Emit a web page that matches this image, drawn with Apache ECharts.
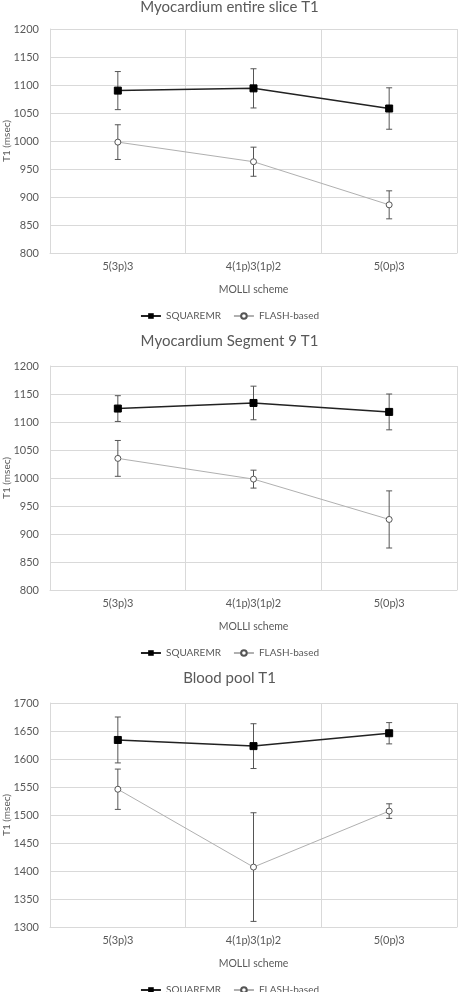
<!DOCTYPE html>
<html><head><meta charset="utf-8">
<script src="https://cdn.jsdelivr.net/npm/echarts@6/dist/echarts.min.js"></script>
<style>html,body{margin:0;padding:0;background:#fff}#c{width:459px;height:992px}</style>
</head><body><div id="c"></div>
<script>
const categories = ['5(3p)3', '4(1p)3(1p)2', '5(0p)3'];
const titles = ['Myocardium entire slice T1', 'Myocardium Segment 9 T1', 'Blood pool T1'];
const yMins = [800, 800, 1300];
const yMaxs = [1200, 1200, 1700];
// panel 1
const squareMR1 = [1090, 1094, 1058];
const squareMR1Err = [34, 35, 37];
const flash1 = [998, 963, 886];
const flash1Err = [31, 26, 25];
// panel 2
const squareMR2 = [1124, 1134, 1118];
const squareMR2Err = [23, 30, 32];
const flash2 = [1035, 998, 926];
const flash2Err = [32, 16, 51];
// panel 3
const squareMR3 = [1634, 1623, 1646];
const squareMR3Err = [41, 40, 19];
const flash3 = [1546, 1407, 1507];
const flash3Err = [36, 97, 13];

const panels = [
  {sq: squareMR1, sqE: squareMR1Err, fl: flash1, flE: flash1Err},
  {sq: squareMR2, sqE: squareMR2Err, fl: flash2, flE: flash2Err},
  {sq: squareMR3, sqE: squareMR3Err, fl: flash3, flE: flash3Err}
];

const FONT = 'Lato';
const TXT = '#595959';
const GRIDC = '#d9d9d9';
const gridTops = [29, 366, 703];
const gridH = 224;
const titleCenters = [7, 342, 679];
const legendCenters = [313, 650, 987];

function errRender(params, api) {
  const x = api.value(0);
  const lo = api.coord([x, api.value(1)]);
  const hi = api.coord([x, api.value(2)]);
  const w = 3;
  const style = {stroke: '#555', lineWidth: 1};
  return {type: 'group', children: [
    {type: 'line', shape: {x1: lo[0], y1: lo[1], x2: hi[0], y2: hi[1]}, style},
    {type: 'line', shape: {x1: hi[0] - w, y1: hi[1], x2: hi[0] + w, y2: hi[1]}, style},
    {type: 'line', shape: {x1: lo[0] - w, y1: lo[1], x2: lo[0] + w, y2: lo[1]}, style}
  ]};
}
function errData(vals, errs) {
  return vals.map((v, i) => [i, v - errs[i], v + errs[i]]);
}

const title = [], grid = [], xAxis = [], yAxis = [], legend = [], series = [];
panels.forEach((p, i) => {
  title.push({text: titles[i], left: 'center', top: Math.max(0, titleCenters[i] - 8), padding: 0,
    textStyle: {fontFamily: FONT, fontSize: 15, fontWeight: 'normal', color: TXT}});
  grid.push({left: 50, right: 2, top: gridTops[i], height: gridH, containLabel: false, outerBoundsMode: 'none'});
  xAxis.push({type: 'category', gridIndex: i, data: categories, boundaryGap: true,
    name: 'MOLLI scheme', nameLocation: 'middle', nameGap: 31, nameMoveOverlap: false,
    nameTextStyle: {fontFamily: FONT, fontSize: 10.5, color: TXT},
    axisLine: {show: true, lineStyle: {color: GRIDC}},
    axisTick: {show: false},
    axisLabel: {fontFamily: FONT, fontSize: 11, color: TXT, margin: 8},
    splitLine: {show: true, lineStyle: {color: GRIDC, width: 1}}});
  yAxis.push({type: 'value', gridIndex: i, min: yMins[i], max: yMaxs[i], interval: 50,
    name: 'T1 (msec)', nameLocation: 'middle', nameGap: 38, nameMoveOverlap: false,
    nameTextStyle: {fontFamily: FONT, fontSize: 10, color: TXT},
    axisLine: {show: true, lineStyle: {color: GRIDC}},
    axisTick: {show: false},
    axisLabel: {fontFamily: FONT, fontSize: 11, color: TXT, margin: 11, formatter: v => String(v)},
    splitLine: {show: true, lineStyle: {color: GRIDC, width: 1}}});
  legend.push({data: ['SQUAREMR', 'FLASH-based'], left: 'center', top: legendCenters[i] - 7,
    itemWidth: 20, itemHeight: 7, itemGap: 12,
    textStyle: {fontFamily: FONT, fontSize: 10, color: TXT}});
  series.push({type: 'custom', name: 'errSq' + i, xAxisIndex: i, yAxisIndex: i, z: 1,
    renderItem: errRender, encode: {x: 0, y: [1, 2]}, data: errData(p.sq, p.sqE), silent: true});
  series.push({type: 'custom', name: 'errFl' + i, xAxisIndex: i, yAxisIndex: i, z: 1,
    renderItem: errRender, encode: {x: 0, y: [1, 2]}, data: errData(p.fl, p.flE), silent: true});
  series.push({type: 'line', name: 'SQUAREMR', xAxisIndex: i, yAxisIndex: i, data: p.sq, z: 3,
    symbol: 'rect', symbolSize: 7, showAllSymbol: true,
    lineStyle: {color: '#222', width: 1.5}, itemStyle: {color: '#000', borderColor: '#000'}});
  series.push({type: 'line', name: 'FLASH-based', xAxisIndex: i, yAxisIndex: i, data: p.fl, z: 3,
    symbol: 'circle', symbolSize: 6, showAllSymbol: true,
    lineStyle: {color: '#b0b0b0', width: 1},
    itemStyle: {color: '#fff', borderColor: '#555', borderWidth: 1}});
});

const chart = echarts.init(document.getElementById('c'), null, {renderer: 'canvas'});
chart.setOption({backgroundColor: '#fff', animation: false, title, grid, xAxis, yAxis, legend, series});
</script></body></html>
